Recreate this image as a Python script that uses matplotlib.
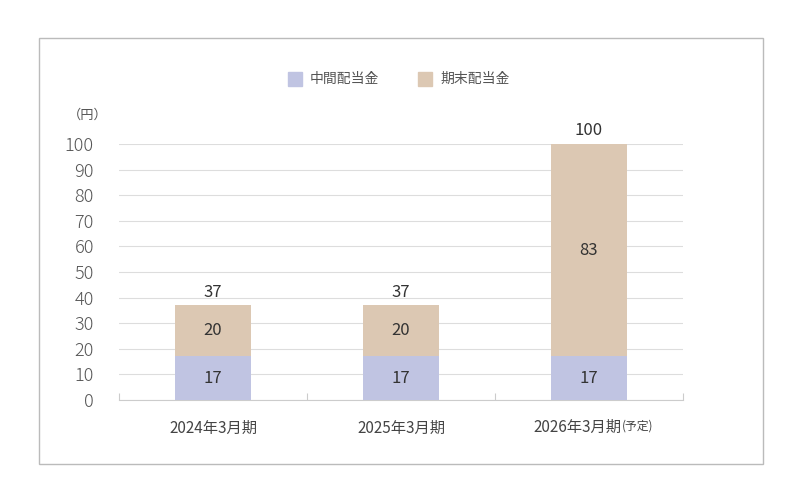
import matplotlib.pyplot as plt
from matplotlib.patches import Rectangle

plt.rcParams['font.family'] = ['Noto Sans CJK JP', 'DejaVu Sans']

# data
categories = ["2024年3月期", "2025年3月期", "2026年3月期"]
interim = [17, 17, 17]
year_end = [20, 20, 83]
totals = [37, 37, 100]
series_names = ["中間配当金", "期末配当金"]

c_interim = "#c0c4e2"
c_end = "#dcc8b3"

fig = plt.figure(figsize=(8, 5), dpi=100)

# outer frame
fig.patches.append(Rectangle((39 / 800, 36 / 500), 724 / 800, 426 / 500,
                             transform=fig.transFigure, fill=False,
                             edgecolor="#bbbbbb", linewidth=1))

ax = fig.add_axes([119 / 800, 100 / 500, 564 / 800, 256 / 500])
x = list(range(len(categories)))
b1 = ax.bar(x, interim, width=0.4, color=c_interim, zorder=3)
b2 = ax.bar(x, year_end, width=0.4, bottom=interim, color=c_end, zorder=3)

for i in x:
    ax.text(i, interim[i] / 2, str(interim[i]), ha="center", va="center",
            fontsize=12, color="#333333", zorder=4)
    ax.text(i, interim[i] + year_end[i] / 2, str(year_end[i]), ha="center",
            va="center", fontsize=12, color="#333333", zorder=4)
    ax.text(i, totals[i] + 1.8, str(totals[i]), ha="center", va="bottom",
            fontsize=12, color="#333333")

ax.set_xlim(-0.5, 2.5)
ax.set_ylim(0, 100)
ax.set_yticks(range(0, 101, 10))
ax.tick_params(axis="y", length=0, labelsize=13, labelcolor="#555555", pad=18)
for t in ax.get_yticklabels():
    t.set_fontweight("light")
ax.grid(axis="y", color="#dddddd", linewidth=0.8, zorder=0)

ax.set_xticks([-0.5, 0.5, 1.5, 2.5])
ax.set_xticklabels([])
ax.tick_params(axis="x", direction="in", length=5, color="#cccccc")
ax.set_xticks(x, minor=True)
ax.set_xticklabels(categories[:2] + [""], minor=True)
ax.tick_params(axis="x", which="minor", length=0, labelsize=11,
               labelcolor="#444444", pad=14)
# the last label carries a smaller "(予定)"
fig.text(621 / 800, 1 - 427 / 500, categories[2], fontsize=11, color="#444444",
         ha="right", va="center")
fig.text(622 / 800, 1 - 426 / 500, "(予定)", fontsize=8.5, color="#444444",
         ha="left", va="center")

for s in ["left", "right", "top"]:
    ax.spines[s].set_visible(False)
ax.spines["bottom"].set_color("#cccccc")

fig.text(88 / 800, 1 - 115 / 500, "（円）", fontsize=9.5, color="#555555",
         ha="center", va="center")

# legend
for px, name, col in [(288, series_names[0], c_interim), (418, series_names[1], c_end)]:
    fig.patches.append(Rectangle((px / 800, 1 - 86 / 500), 14 / 800, 14 / 500,
                                 transform=fig.transFigure, color=col))
    fig.text((px + 22) / 800, 1 - 79 / 500, name, fontsize=10,
             color="#555555", ha="left", va="center")

fig.savefig("out.png", dpi=100)
